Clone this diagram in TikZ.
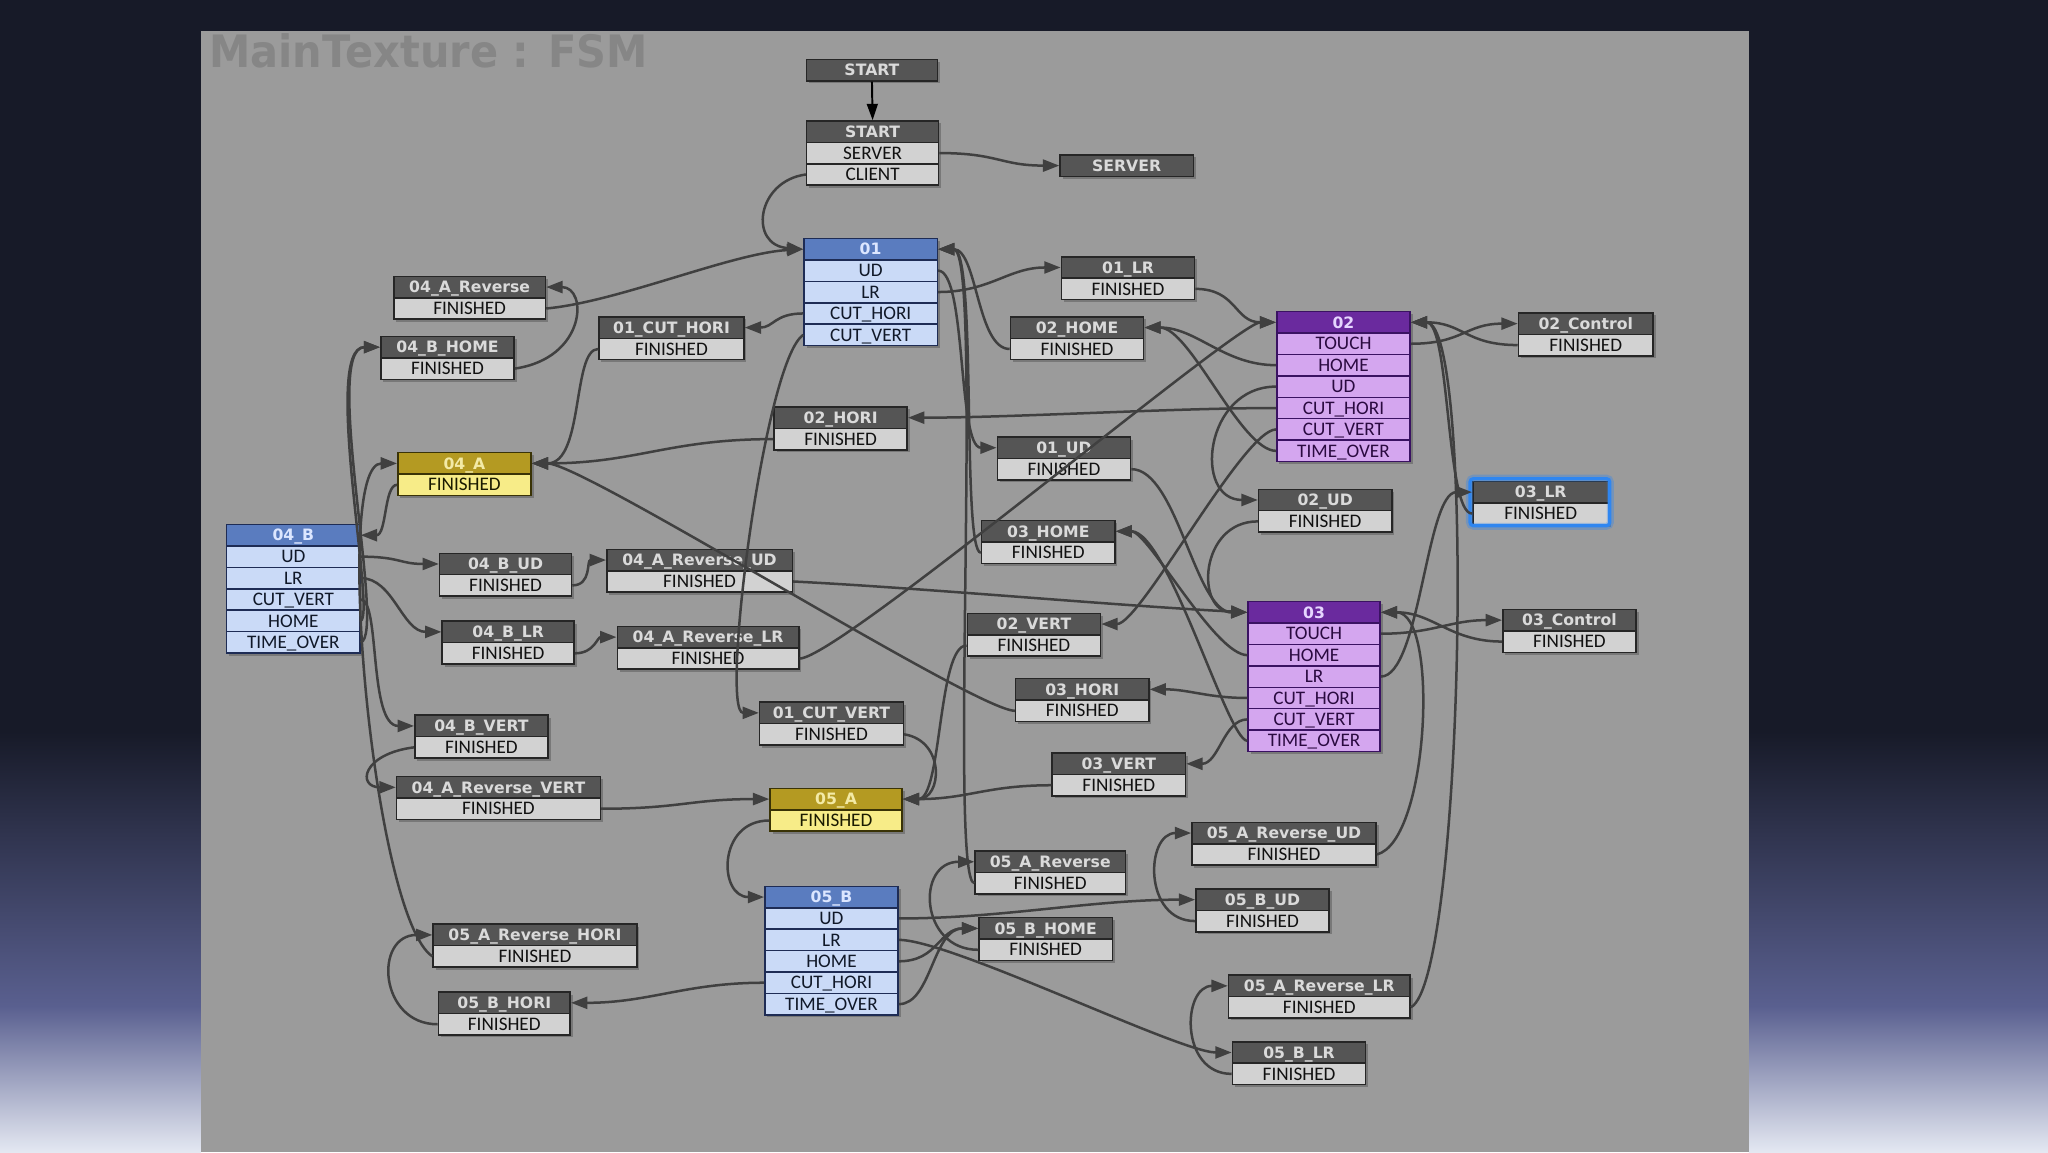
\documentclass[tikz,border=0pt]{standalone}
\usepackage{fontspec}
\usepackage{graphicx}
\usetikzlibrary{arrows.meta}
\newfontfamily\hdfont{DejaVu Sans}
\newfontfamily\rwfont{Carlito}
\definecolor{bgtop}{HTML}{171A28}
\definecolor{bgmid}{HTML}{5A6090}
\definecolor{bglow}{HTML}{E4E8F2}
\definecolor{panel}{HTML}{9B9B9B}
\definecolor{ttl}{HTML}{868686}
\definecolor{bord}{HTML}{262626}
\definecolor{hddkf}{HTML}{555555}
\definecolor{hddkt}{HTML}{DADADA}
\definecolor{rwdkf}{HTML}{D2D2D2}
\definecolor{rwdkt}{HTML}{111111}
\definecolor{hdblf}{HTML}{5A7CBF}
\definecolor{hdblt}{HTML}{DCE6FF}
\definecolor{rwblf}{HTML}{CADAF7}
\definecolor{rwblt}{HTML}{101828}
\definecolor{blbord}{HTML}{1E2C55}
\definecolor{hdpuf}{HTML}{6A2A9E}
\definecolor{hdput}{HTML}{E6D6FF}
\definecolor{rwpuf}{HTML}{D4A6EF}
\definecolor{rwput}{HTML}{2A0A40}
\definecolor{pubord}{HTML}{3A1262}
\definecolor{hdyef}{HTML}{B49A22}
\definecolor{hdyet}{HTML}{F3EAA6}
\definecolor{rwyef}{HTML}{F7EC88}
\definecolor{rwyet}{HTML}{1A1A00}
\definecolor{yebord}{HTML}{3A3306}
\definecolor{edgec}{HTML}{404040}
\definecolor{selblue}{HTML}{2F86F0}
\tikzset{
  bx/.style={draw=bord, line width=0.7pt, inner sep=0pt, minimum height=9.84pt, text depth=0pt, anchor=north west},
  hdbase/.style={bx, font=\hdfont\bfseries\fontsize{7.2}{8.6}\selectfont, text height=5.25pt},
  rwbase/.style={bx, font=\rwfont\fontsize{8.8}{10}\selectfont, text height=5.65pt},
  hddk/.style={hdbase, fill=hddkf, text=hddkt},
  rwdk/.style={rwbase, fill=rwdkf, text=rwdkt},
  hdbl/.style={hdbase, fill=hdblf, text=hdblt, draw=blbord},
  rwbl/.style={rwbase, fill=rwblf, text=rwblt, draw=blbord},
  hdpu/.style={hdbase, fill=hdpuf, text=hdput, draw=pubord},
  rwpu/.style={rwbase, fill=rwpuf, text=rwput, draw=pubord},
  hdye/.style={hdbase, fill=hdyef, text=hdyet, draw=yebord},
  rwye/.style={rwbase, fill=rwyef, text=rwyet, draw=yebord},
  shad/.style={fill=black, opacity=0.22},
  conn/.style={draw=edgec, line width=1.15pt, -{Triangle[length=7.5pt,width=5.5pt]}},
  startarr/.style={draw=black, line width=0.9pt, -{Triangle[length=7.5pt,width=5pt]}},
}
% name, x, y, width, header, kind, nrows, rows
\newcommand\fsmbox[8]{%
  \fill[shad] (#2+2.5,#3+2.5) rectangle ++(#4,{(#7+1)*16.4});
  \node[hd#6, minimum width=#4*0.6pt] (#1) at (#2,#3) {#5};
  \foreach \t [count=\i] in {#8} {
    \node[rw#6, minimum width=#4*0.6pt] (#1-\i) at (#2,{#3+\i*16.4}) {\t};
  }
}
\begin{document}
\begin{tikzpicture}[x=0.6pt,y=-0.6pt]
\useasboundingbox (0,0) rectangle (1568,882);
% background
\fill[bgtop] (0,0) rectangle (1568,882);
\shade[top color=bgtop, bottom color=bgmid] (0,560) rectangle (154,772);
\shade[top color=bgmid, bottom color=bglow] (0,771) rectangle (154,882);
\shade[top color=bgtop, bottom color=bgmid] (1339,560) rectangle (1568,772);
\shade[top color=bgmid, bottom color=bglow] (1339,771) rectangle (1568,882);
\fill[panel] (154,24) rectangle (1339,882);
\node[anchor=base west, text=ttl, font=\hdfont\bfseries\fontsize{20.5}{24}\selectfont, inner sep=0pt] (title) at (160,52) {\scalebox{0.93}[1]{MainTexture : FSM}};

% single nodes
\fill[shad] (619.5,47.5) rectangle ++(100,16.4);
\node[hddk, minimum width=100*0.6pt] (startTop) at (617,45) {START};
\fill[shad] (813.5,120.5) rectangle ++(102,16.4);
\node[hddk, minimum width=102*0.6pt] (server) at (811,118) {SERVER};

\fsmbox{sstart}{617}{92}{101}{START}{dk}{2}{SERVER,CLIENT}
\fsmbox{s01}{615}{182}{102}{01}{bl}{4}{UD,LR,CUT\_HORI,CUT\_VERT}
\fsmbox{s01LR}{812}{196}{102}{01\_LR}{dk}{1}{FINISHED}
\fsmbox{s04AR}{301}{211}{116}{04\_A\_Reverse}{dk}{1}{FINISHED}
\fsmbox{s01CH}{458}{242}{111}{01\_CUT\_HORI}{dk}{1}{FINISHED}
\fsmbox{s02HOME}{773}{242}{102}{02\_HOME}{dk}{1}{FINISHED}
\fsmbox{s02}{977}{238}{102}{02}{pu}{6}{TOUCH,HOME,UD,CUT\_HORI,CUT\_VERT,TIME\_OVER}
\fsmbox{s02C}{1162}{239}{103}{02\_Control}{dk}{1}{FINISHED}
\fsmbox{s04BH}{291}{257}{102}{04\_B\_HOME}{dk}{1}{FINISHED}
\fsmbox{s02HORI}{592}{311}{102}{02\_HORI}{dk}{1}{FINISHED}
\fsmbox{s01UD}{763}{334}{102}{01\_UD}{dk}{1}{FINISHED}
\fsmbox{s04A}{304}{346}{102}{04\_A}{ye}{1}{FINISHED}
\fsmbox{s02UD}{963}{374}{102}{02\_UD}{dk}{1}{FINISHED}
\fsmbox{s03LR}{1127}{368}{104}{03\_LR}{dk}{1}{FINISHED}
\fsmbox{s04B}{173}{401}{102}{04\_B}{bl}{5}{UD,LR,CUT\_VERT,HOME,TIME\_OVER}
\fsmbox{s03HOME}{751}{398}{102}{03\_HOME}{dk}{1}{FINISHED}
\fsmbox{s04BUD}{336}{423}{101}{04\_B\_UD}{dk}{1}{FINISHED}
\fsmbox{s04ARUD}{464}{420}{142}{04\_A\_Reverse\_UD}{dk}{1}{FINISHED}
\fsmbox{s03}{955}{460}{101}{03}{pu}{6}{TOUCH,HOME,LR,CUT\_HORI,CUT\_VERT,TIME\_OVER}
\fsmbox{s03C}{1150}{466}{102}{03\_Control}{dk}{1}{FINISHED}
\fsmbox{s02VERT}{740}{469}{102}{02\_VERT}{dk}{1}{FINISHED}
\fsmbox{s04BLR}{338}{475}{101}{04\_B\_LR}{dk}{1}{FINISHED}
\fsmbox{s04ARLR}{472}{479}{139}{04\_A\_Reverse\_LR}{dk}{1}{FINISHED}
\fsmbox{s03HORI}{777}{519}{102}{03\_HORI}{dk}{1}{FINISHED}
\fsmbox{s01CV}{581}{537}{110}{01\_CUT\_VERT}{dk}{1}{FINISHED}
\fsmbox{s04BV}{317}{547}{102}{04\_B\_VERT}{dk}{1}{FINISHED}
\fsmbox{s03VERT}{805}{576}{102}{03\_VERT}{dk}{1}{FINISHED}
\fsmbox{s04ARV}{303}{594}{156}{04\_A\_Reverse\_VERT}{dk}{1}{FINISHED}
\fsmbox{s05A}{589}{603}{101}{05\_A}{ye}{1}{FINISHED}
\fsmbox{s05ARUD}{912}{629}{141}{05\_A\_Reverse\_UD}{dk}{1}{FINISHED}
\fsmbox{s05AR}{746}{651}{115}{05\_A\_Reverse}{dk}{1}{FINISHED}
\fsmbox{s05B}{585}{678}{102}{05\_B}{bl}{5}{UD,LR,HOME,CUT\_HORI,TIME\_OVER}
\fsmbox{s05BUD}{915}{680}{102}{05\_B\_UD}{dk}{1}{FINISHED}
\fsmbox{s05BH}{749}{702}{102}{05\_B\_HOME}{dk}{1}{FINISHED}
\fsmbox{s05ARH}{331}{707}{156}{05\_A\_Reverse\_HORI}{dk}{1}{FINISHED}
\fsmbox{s05BHORI}{335}{759}{101}{05\_B\_HORI}{dk}{1}{FINISHED}
\fsmbox{s05ARLR}{940}{746}{139}{05\_A\_Reverse\_LR}{dk}{1}{FINISHED}
\fsmbox{s05BLR}{943}{797}{102}{05\_B\_LR}{dk}{1}{FINISHED}

% selection highlight
\draw[selblue, opacity=0.35, line width=3.2pt, rounded corners=2pt] (1125,366) rectangle (1233,403);
\draw[selblue, line width=1.5pt, rounded corners=1.5pt] (1125.5,366.5) rectangle (1232.5,402.5);

% connectors
\draw[startarr] (startTop.south) -- (sstart.north);
\draw[conn] (sstart-1.east) .. controls +(45,0) and +(-45,0) .. (server.west);
\draw[conn] (sstart-2.west) .. controls +(-38,5) and +(-42,-3) .. (s01.west);
\draw[conn] (s04AR-1.east) .. controls +(55,-5) and +(-55,3) .. (s01.west);
\draw[conn] (s04BH-1.east) .. controls +(55,-8) and +(32,0) .. (s04AR.east);
\draw[conn] (s01-1.east) .. controls +(22,0) and +(-30,0) .. (s01UD.west);
\draw[conn] (s01-2.east) .. controls +(40,0) and +(-40,0) .. (s01LR.west);
\draw[conn] (s01-3.west) .. controls +(-22,0) and +(22,0) .. (s01CH.east);
\draw[conn] (s01-4.west) .. controls +(-30,20) and +(-30,0) .. (s01CV.west);
\draw[conn] (s01LR-1.east) .. controls +(32,0) and +(-32,0) .. (s02.west);
\draw[conn] (s01UD-1.east) .. controls +(35,0) and +(-40,0) .. (s03.west);
\draw[conn] (s01CH-1.west) .. controls +(-20,0) and +(40,0) .. (s04A.east);
\draw[conn] (s01CV-1.east) .. controls +(32,5) and +(30,0) .. (s05A.east);
\draw[conn] (s02-1.east) .. controls +(40,0) and +(-40,0) .. (s02C.west);
\draw[conn] (s02C-1.west) .. controls +(-40,0) and +(40,0) .. (s02.east);
\draw[conn] (s02-2.west) .. controls +(-40,0) and +(40,0) .. (s02HOME.east);
\draw[conn] (s02-3.west) .. controls +(-55,0) and +(-50,0) .. (s02UD.west);
\draw[conn] (s02-4.west) .. controls +(-80,0) and +(80,0) .. (s02HORI.east);
\draw[conn] (s02-5.west) .. controls +(-25,0) and +(30,0) .. (s02VERT.east);
\draw[conn] (s02-6.west) .. controls +(-27,0) and +(35,0) .. (s02HOME.east);
\draw[conn] (s02HOME-1.west) .. controls +(-25,0) and +(30,0) .. (s01.east);
\draw[conn] (s02UD-1.west) .. controls +(-45,0) and +(-40,0) .. (s03.west);
\draw[conn] (s02HORI-1.west) .. controls +(-80,0) and +(80,0) .. (s04A.east);
\draw[conn] (s02VERT-1.west) .. controls +(-22,0) and +(30,0) .. (s05A.east);
\draw[conn] (s03-1.east) .. controls +(40,0) and +(-40,0) .. (s03C.west);
\draw[conn] (s03C-1.west) .. controls +(-40,0) and +(40,0) .. (s03.east);
\draw[conn] (s03-2.west) .. controls +(-25,0) and +(25,0) .. (s03HOME.east);
\draw[conn] (s03-3.east) .. controls +(30,0) and +(-35,0) .. (s03LR.west);
\draw[conn] (s03-4.west) .. controls +(-30,0) and +(30,0) .. (s03HORI.east);
\draw[conn] (s03-5.west) .. controls +(-18,0) and +(25,0) .. (s03VERT.east);
\draw[conn] (s03-6.west) .. controls +(-15,0) and +(40,0) .. (s03HOME.east);
\draw[conn] (s03HOME-1.west) .. controls +(-15,0) and +(30,0) .. (s01.east);
\draw[conn] (s03LR-1.west) .. controls +(-20,0) and +(30,0) .. (s02.east);
\draw[conn] (s03HORI-1.west) .. controls +(-30,0) and +(40,0) .. (s04A.east);
\draw[conn] (s03VERT-1.west) .. controls +(-50,0) and +(50,0) .. (s05A.east);
\draw[conn] (s04A-1.west) .. controls +(-10,0) and +(20,0) .. (s04B.east);
\draw[conn] (s04B-1.east) .. controls +(30,0) and +(-30,0) .. (s04BUD.west);
\draw[conn] (s04B-2.east) .. controls +(25,0) and +(-30,0) .. (s04BLR.west);
\draw[conn] (s04B-3.east) .. controls +(15,0) and +(-35,0) .. (s04BV.west);
\draw[conn] (s04B-4.east) .. controls +(12,-5) and +(-45,0) .. (s04BH.west);
\draw[conn] (s04B-5.east) .. controls +(20,-5) and +(-45,0) .. (s04BH.west);
\draw[conn] (s04BUD-1.east) .. controls +(15,0) and +(-15,0) .. (s04ARUD.west);
\draw[conn] (s04BLR-1.east) .. controls +(15,0) and +(-15,0) .. (s04ARLR.west);
\draw[conn] (s04BV-1.west) .. controls +(-40,5) and +(-30,0) .. (s04ARV.west);
\draw[conn] (s04ARUD-1.east) .. controls +(100,5) and +(-100,-5) .. (s03.west);
\draw[conn] (s04ARLR-1.east) .. controls +(30,0) and +(-30,0) .. (s02.west);
\draw[conn] (s04ARV-1.east) .. controls +(60,0) and +(-60,0) .. (s05A.west);
\draw[conn] (s05A-1.west) .. controls +(-40,0) and +(-35,0) .. (s05B.west);
\draw[conn] (s05B-1.east) .. controls +(80,0) and +(-80,0) .. (s05BUD.west);
\draw[conn] (s05B-2.east) .. controls +(40,0) and +(-40,0) .. (s05BLR.west);
\draw[conn] (s05B-3.east) .. controls +(30,0) and +(-30,0) .. (s05BH.west);
\draw[conn] (s05B-4.west) .. controls +(-60,0) and +(60,0) .. (s05BHORI.east);
\draw[conn] (s05B-5.east) .. controls +(25,0) and +(-35,0) .. (s05BH.west);
\draw[conn] (s05BUD-1.west) .. controls +(-40,0) and +(-35,0) .. (s05ARUD.west);
\draw[conn] (s05BLR-1.west) .. controls +(-40,0) and +(-35,0) .. (s05ARLR.west);
\draw[conn] (s05BH-1.west) .. controls +(-45,0) and +(-45,0) .. (s05AR.west);
\draw[conn] (s05BHORI-1.west) .. controls +(-45,0) and +(-45,0) .. (s05ARH.west);
\draw[conn] (s05AR-1.west) .. controls +(-20,0) and +(35,0) .. (s01.east);
\draw[conn] (s05ARUD-1.east) .. controls +(40,-10) and +(45,0) .. (s03.east);
\draw[conn] (s05ARLR-1.east) .. controls +(40,-20) and +(50,0) .. (s02.east);
\draw[conn] (s05ARH-1.west) .. controls +(-45,-30) and +(-50,0) .. (s04A.west);
\end{tikzpicture}
\end{document}
